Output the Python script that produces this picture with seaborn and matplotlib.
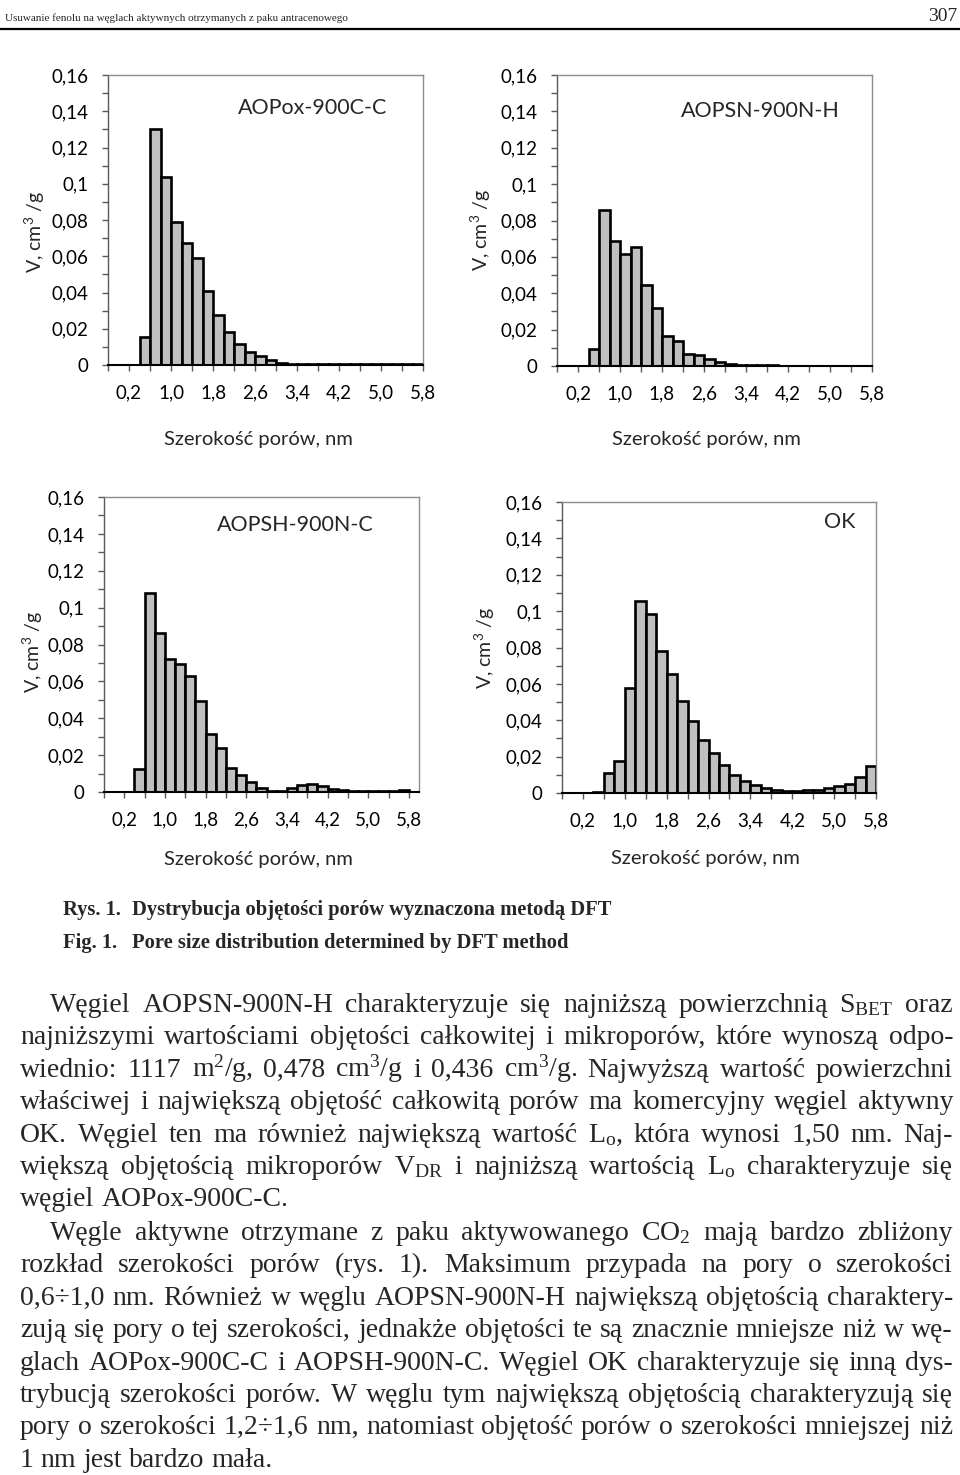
# Pore size distribution (DFT) - page from the paper, four bar panels + text
import numpy as np
import pandas as pd
import matplotlib
matplotlib.use('Agg')
import matplotlib.pyplot as plt
import seaborn as sns
from matplotlib.lines import Line2D

# pore volume in each 0.2 nm bin, cm3/g
aopox_900c_c = [0, 0, 0, 0.0153, 0.130, 0.104, 0.0789, 0.0671, 0.059, 0.041,
                0.0278, 0.018, 0.0118, 0.0072, 0.0048, 0.0026, 0.0013, 0.0007, 0.0005, 0.0004,
                0.0003, 0.0003, 0.0003, 0.0003, 0.0003, 0.0003, 0.0004, 0.0005, 0.0007, 0.0007]
aopsn_900n_h = [0, 0, 0, 0.0095, 0.0856, 0.0687, 0.0616, 0.0652, 0.0447, 0.0317,
                0.0167, 0.0137, 0.0066, 0.0059, 0.0038, 0.0022, 0.0011, 0.0007, 0.0006, 0.0004,
                0.0003, 0.0002, 0.0002, 0.0002, 0.0002, 0.0002, 0.0002, 0.0002, 0.0002, 0.0002]
aopsh_900n_c = [0, 0, 0, 0.0125, 0.108, 0.0864, 0.0723, 0.0694, 0.0629, 0.0492,
                0.0315, 0.0237, 0.013, 0.009, 0.0052, 0.0024, 0.0004, 0.0004, 0.0022, 0.004,
                0.0042, 0.0033, 0.0016, 0.0009, 0.0007, 0.0005, 0.0005, 0.0005, 0.0005, 0.0011, 0]
ok_carbon = [0, 0, 0, 0.0006, 0.0112, 0.0174, 0.0576, 0.1056, 0.0984, 0.0779,
             0.0654, 0.0508, 0.0396, 0.0291, 0.0222, 0.0154, 0.0101, 0.0066, 0.0044, 0.0027,
             0.0016, 0.0009, 0.0009, 0.0016, 0.0018, 0.0027, 0.0037, 0.005, 0.009, 0.0148]

panel_titles = ["AOPox-900C-C", "AOPSN-900N-H", "AOPSH-900N-C", "OK"]
y_tick_values = [0, 0.02, 0.04, 0.06, 0.08, 0.10, 0.12, 0.14, 0.16]
y_tick_labels = ["0", "0,02", "0,04", "0,06", "0,08", "0,1", "0,12", "0,14", "0,16"]
x_tick_labels = ["0,2", "1,0", "1,8", "2,6", "3,4", "4,2", "5,0", "5,8"]
x_title = "Szerokość porów, nm"
y_title = "V, cm$^3$ /g"

header = "Usuwanie fenolu na węglach aktywnych otrzymanych z paku antracenowego"
page_no = "307"
caption_pl = ("Rys. 1.", "Dystrybucja objętości porów wyznaczona metodą DFT")
caption_en = ("Fig. 1.", "Pore size distribution determined by DFT method")

paragraph_1 = [
    "Węgiel AOPSN-900N-H charakteryzuje się najniższą powierzchnią S$_{BET}$ oraz",
    "najniższymi wartościami objętości całkowitej i mikroporów, które wynoszą odpo-",
    "wiednio: 1117 m$^2$/g, 0,478 cm$^3$/g i 0,436 cm$^3$/g. Najwyższą wartość powierzchni",
    "właściwej i największą objętość całkowitą porów ma komercyjny węgiel aktywny",
    "OK. Węgiel ten ma również największą wartość L$_o$, która wynosi 1,50 nm. Naj-",
    "większą objętością mikroporów V$_{DR}$ i najniższą wartością L$_o$ charakteryzuje się",
    "węgiel AOPox-900C-C.",
]
paragraph_2 = [
    "Węgle aktywne otrzymane z paku aktywowanego CO$_2$ mają bardzo zbliżony",
    "rozkład szerokości porów (rys. 1). Maksimum przypada na pory o szerokości",
    "0,6÷1,0 nm. Również w węglu AOPSN-900N-H największą objętością charaktery-",
    "zują się pory o tej szerokości, jednakże objętości te są znacznie mniejsze niż w wę-",
    "glach AOPox-900C-C i AOPSH-900N-C. Węgiel OK charakteryzuje się inną dys-",
    "trybucją szerokości porów. W węglu tym największą objętością charakteryzują się",
    "pory o szerokości 1,2÷1,6 nm, natomiast objętość porów o szerokości mniejszej niż",
    "1 nm jest bardzo mała.",
]

W, H = 960, 1475
sns.set_style('white')
plt.rcParams['font.family'] = ['Lato', 'DejaVu Sans']
plt.rcParams['mathtext.default'] = 'regular'
serif = ['Liberation Serif', 'DejaVu Serif']

fig = plt.figure(figsize=(W / 100, H / 100), dpi=100)
renderer = fig.canvas.get_renderer()


def box(left, top, right, bottom):
    return [left / W, 1 - bottom / H, (right - left) / W, (bottom - top) / H]


def put(x, y, s, **kw):
    return fig.text(x / W, 1 - y / H, s, **kw)


def text_width(s, size, **kw):
    t = fig.text(0, 0, s, fontsize=size, **kw)
    w = t.get_window_extent(renderer).width
    t.remove()
    return w


def panel(rect, values, title, title_xy, ylab_xy, xlab_xy):
    ax = fig.add_axes(box(*rect))
    df = pd.DataFrame({'bin': np.arange(len(values)), 'volume': values})
    sns.barplot(data=df, x='bin', y='volume', ax=ax, width=1.0, color='#c0c0c0',
                saturation=1, edgecolor='black', linewidth=1.9)
    for p in ax.patches:
        if p.get_height() == 0:
            p.set_visible(False)
    ax.set_xlim(-0.5, len(values) - 0.5)
    ax.set_ylim(0, 0.16)
    ax.set_yticks(y_tick_values)
    ax.set_yticklabels(y_tick_labels)
    ax.set_yticks(np.arange(0.01, 0.16, 0.02), minor=True)
    ax.set_xticks([1.5 + 4 * k for k in range(len(x_tick_labels))])
    ax.set_xticklabels(x_tick_labels)
    ax.set_xticks([-0.5 + 4 * k for k in range(8)], minor=True)
    ax.tick_params(which='both', bottom=True, left=True, direction='out',
                   length=4, width=1, color='#595959', labelsize=13.5, labelcolor='black')
    ax.tick_params(axis='y', pad=10)
    ax.tick_params(axis='x', pad=10)
    ax.set_xlabel('')
    ax.set_ylabel('')
    for side in ['top', 'right']:
        ax.spines[side].set_color('#8c8c8c')
        ax.spines[side].set_linewidth(1)
    ax.spines['left'].set_color('#595959')
    ax.spines['left'].set_linewidth(1)
    ax.spines['bottom'].set_color('black')
    ax.spines['bottom'].set_linewidth(1.5)
    put(*title_xy, title, fontsize=15.5, ha='center', va='center')
    put(*ylab_xy, y_title, fontsize=14, rotation=90, ha='center', va='center')
    put(*xlab_xy, x_title, fontsize=14.5, ha='center', va='center')
    return ax


panel((108, 75, 423, 365), aopox_900c_c, panel_titles[0], (313, 108), (35, 232), (258, 440))
panel((557, 75, 872, 366), aopsn_900n_h, panel_titles[1], (760, 111), (481, 230), (706, 440))
panel((104, 497, 419, 792), aopsh_900n_c, panel_titles[2], (295, 525), (33, 652), (258, 860))
panel((562, 502, 876, 793), ok_carbon, panel_titles[3], (840, 522), (485, 648), (705, 858))

# page header
hs = 20 * 345 / text_width(header, 20, family=serif)
put(5, 21, header, fontsize=hs, family=serif, va='baseline')
put(957, 21, page_no, fontsize=14, family=serif, va='baseline', ha='right')
fig.add_artist(Line2D([0, 1], [1 - 28.5 / H, 1 - 28.5 / H], color='black', lw=1.6))

# figure caption
cs = 20 * 480 / text_width(caption_pl[1], 20, family=serif, weight='bold')
for (lab, txt), yb in zip([caption_pl, caption_en], [915, 948]):
    put(63, yb, lab, fontsize=cs, family=serif, weight='bold', va='baseline')
    put(132, yb, txt, fontsize=cs, family=serif, weight='bold', va='baseline')

# justified body text
x_left, x_right, indent = 20, 953, 50
lines = []
for par, y0 in [(paragraph_1, 1012), (paragraph_2, 1240)]:
    for i, s in enumerate(par):
        lines.append((s, y0 + 32.4 * i, x_left + (indent - x_left) * (i == 0), i == len(par) - 1))

bs = min(20 * (x_right - x0) / text_width(s, 20, family=serif) for s, y, x0, last in lines if not last)
bs *= 0.995
space = text_width('a a', bs, family=serif) - text_width('aa', bs, family=serif)
for s, y, x0, last in lines:
    words = s.split(' ')
    widths = [text_width(w, bs, family=serif) for w in words]
    gap = space if last else (x_right - x0 - sum(widths)) / (len(words) - 1)
    x = x0
    for w, wd in zip(words, widths):
        put(x, y, w, fontsize=bs, family=serif, va='baseline')
        x += wd + gap

fig.savefig('out.png', dpi=100)
